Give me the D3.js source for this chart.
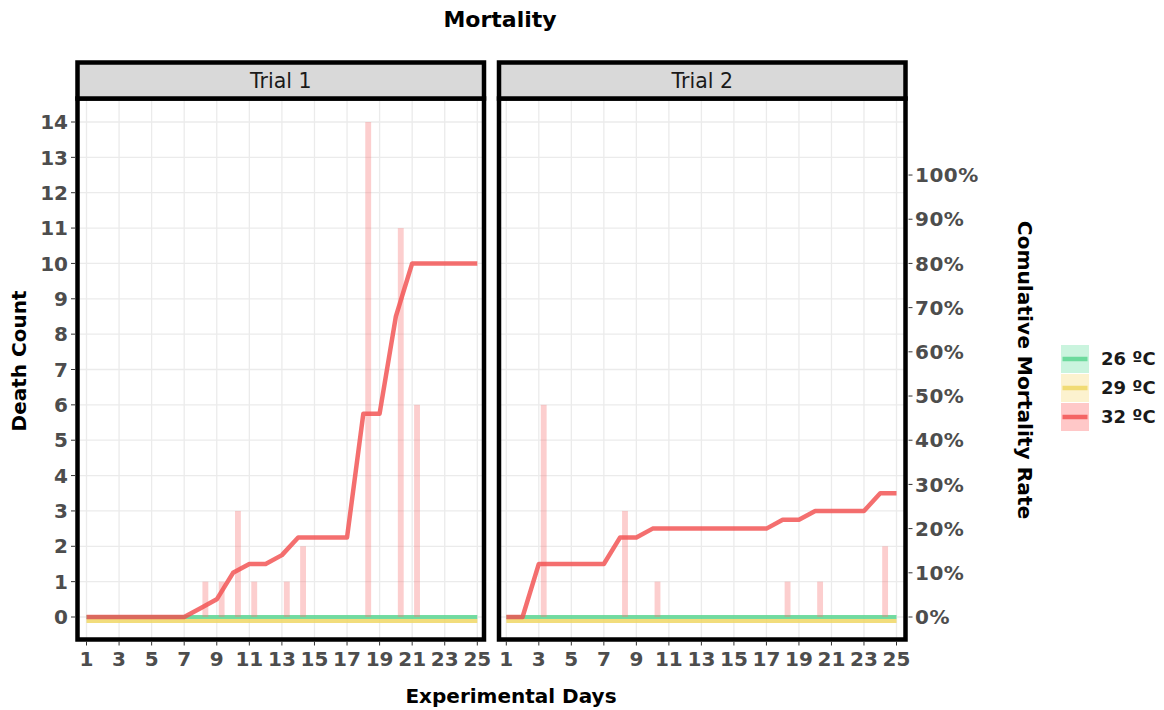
<!DOCTYPE html>
<html>
<head>
<meta charset="utf-8">
<script src="https://cdn.jsdelivr.net/npm/d3@7"></script>
<style>
  html, body { margin: 0; padding: 0; background: #ffffff; }
  svg { display: block; font-family: "DejaVu Sans", Verdana, sans-serif; }
</style>
</head>
<body>
<svg id="chart" width="1164" height="710"></svg>
<script>
// ---- data ---------------------------------------------------------------
const days = [1, 2, 3, 4, 5, 6, 7, 8, 9, 10, 11, 12, 13, 14, 15, 16, 17, 18, 19, 20, 21, 22, 23, 24, 25];
const dayTicks = [1, 3, 5, 7, 9, 11, 13, 15, 17, 19, 21, 23, 25];
const countTicks = [0, 1, 2, 3, 4, 5, 6, 7, 8, 9, 10, 11, 12, 13, 14];
const rateTicks = [0, 10, 20, 30, 40, 50, 60, 70, 80, 90, 100];
const trials = ["Trial 1", "Trial 2"];
const groups = ["26 ºC", "29 ºC", "32 ºC"];

// daily deaths per group (Trial 1)
const t1Deaths26 = [0,0,0,0,0,0,0,0,0,0,0,0,0,0,0,0,0,0,0,0,0,0,0,0,0];
const t1Deaths29 = [0,0,0,0,0,0,0,0,0,0,0,0,0,0,0,0,0,0,0,0,0,0,0,0,0];
const t1Deaths32 = [0,0,0,0,0,0,0,1,1,3,1,0,1,2,0,0,0,14,0,11,6,0,0,0,0];
// cumulative mortality rate, % (Trial 1)
const t1Rate26 = [0,0,0,0,0,0,0,0,0,0,0,0,0,0,0,0,0,0,0,0,0,0,0,0,0];
const t1Rate29 = [0,0,0,0,0,0,0,0,0,0,0,0,0,0,0,0,0,0,0,0,0,0,0,0,0];
const t1Rate32 = [0,0,0,0,0,0,0,2,4,10,12,12,14,18,18,18,18,46,46,68,80,80,80,80,80];

// daily deaths per group (Trial 2)
const t2Deaths26 = [0,0,0,0,0,0,0,0,0,0,0,0,0,0,0,0,0,0,0,0,0,0,0,0,0];
const t2Deaths29 = [0,0,0,0,0,0,0,0,0,0,0,0,0,0,0,0,0,0,0,0,0,0,0,0,0];
const t2Deaths32 = [0,0,6,0,0,0,0,3,0,1,0,0,0,0,0,0,0,1,0,1,0,0,0,2,0];
// cumulative mortality rate, % (Trial 2)
const t2Rate26 = [0,0,0,0,0,0,0,0,0,0,0,0,0,0,0,0,0,0,0,0,0,0,0,0,0];
const t2Rate29 = [0,0,0,0,0,0,0,0,0,0,0,0,0,0,0,0,0,0,0,0,0,0,0,0,0];
const t2Rate32 = [0,0,12,12,12,12,12,18,18,20,20,20,20,20,20,20,20,22,22,24,24,24,24,28,28];

// secondary axis: 100 % cumulative mortality corresponds to 12.5 deaths
const rateToCount = 12.5 / 100;

// ---- styling --------------------------------------------------------------
const lineColor = { "26 ºC": "#5cd692", "29 ºC": "#f0d765", "32 ºC": "#f24f4f" };
const lineOpacity = { "26 ºC": 0.85, "29 ºC": 0.85, "32 ºC": 0.82 };
const keyFill   = { "26 ºC": "#caf4de", "29 ºC": "#fcf2cf", "32 ºC": "#ffc8c8" };
const barFill = "rgba(248,118,118,0.36)";
const lineNudge = { "26 ºC": 0, "29 ºC": 4, "32 ºC": 0 };   // pixel dodge of overlapping zero lines
const barDodge = { "26 ºC": -0.3, "29 ºC": 0, "32 ºC": 0.3 };
const barWidthDays = 0.36;

const panelData = [
  { label: trials[0], deaths: [t1Deaths26, t1Deaths29, t1Deaths32], rate: [t1Rate26, t1Rate29, t1Rate32] },
  { label: trials[1], deaths: [t2Deaths26, t2Deaths29, t2Deaths32], rate: [t2Rate26, t2Rate29, t2Rate32] }
];

// ---- layout ---------------------------------------------------------------
const svg = d3.select("#chart");
const stripTop = 62.5, stripBottom = 98.5, panelBottom = 639.5;
const panels = [
  { x0: 77.5, x1: 484, dayRange: [86.5, 477.3] },
  { x0: 499, x1: 905.5, dayRange: [506.3, 896.5] }
];

const y = d3.scaleLinear().domain([0, 14]).range([617, 122]);
const yRate = d3.scaleLinear().domain([0, 100]).range([y(0), y(100 * rateToCount)]);

const tickColor = "#4d4d4d";
const tickFont = 20;

// ---- title ----------------------------------------------------------------
svg.append("text")
  .attr("x", 500).attr("y", 27)
  .attr("text-anchor", "middle")
  .attr("font-size", 22).attr("font-weight", "bold").attr("fill", "#000")
  .text("Mortality");

panels.forEach((p, i) => {
  const d = panelData[i];
  const x = d3.scaleLinear().domain([days[0], days[days.length - 1]]).range(p.dayRange);
  const g = svg.append("g");

  // panel background
  g.append("rect")
    .attr("x", p.x0).attr("y", stripBottom)
    .attr("width", p.x1 - p.x0).attr("height", panelBottom - stripBottom)
    .attr("fill", "#ffffff");

  // grid
  const clipId = "clip" + i;
  svg.append("clipPath").attr("id", clipId)
    .append("rect").attr("x", p.x0).attr("y", stripBottom)
    .attr("width", p.x1 - p.x0).attr("height", panelBottom - stripBottom);
  const plot = g.append("g").attr("clip-path", `url(#${clipId})`);

  plot.append("g").selectAll("line").data(countTicks).join("line")
    .attr("x1", p.x0).attr("x2", p.x1)
    .attr("y1", v => y(v)).attr("y2", v => y(v))
    .attr("stroke", "#ebebeb").attr("stroke-width", 1.3);
  plot.append("g").selectAll("line").data(dayTicks).join("line")
    .attr("x1", v => x(v)).attr("x2", v => x(v))
    .attr("y1", stripBottom).attr("y2", panelBottom)
    .attr("stroke", "#ebebeb").attr("stroke-width", 1.3);

  const line = d3.line().x(v => x(v.day)).y(v => yRate(v.rate));
  const pxPerDay = x(2) - x(1);

  // each group: bars then cumulative line, drawn in group order
  groups.forEach((grp, k) => {
    const barRows = days.map((dd, j) => ({ day: dd, n: d.deaths[k][j] })).filter(r => r.n > 0);
    plot.append("g").selectAll("rect").data(barRows).join("rect")
      .attr("x", r => x(r.day + barDodge[grp]) - barWidthDays * pxPerDay / 2)
      .attr("width", barWidthDays * pxPerDay)
      .attr("y", r => y(r.n))
      .attr("height", r => y(0) - y(r.n))
      .attr("fill", barFill);

    const rows = days.map((dd, j) => ({ day: dd, rate: d.rate[k][j] }));
    plot.append("path")
      .datum(rows)
      .attr("d", line)
      .attr("transform", `translate(0,${lineNudge[grp]})`)
      .attr("fill", "none")
      .attr("stroke", lineColor[grp])
      .attr("stroke-width", grp === "32 ºC" ? 4.5 : 4)
      .attr("stroke-linejoin", "round")
      .attr("opacity", lineOpacity[grp]);
  });

  // panel border
  g.append("rect")
    .attr("x", p.x0).attr("y", stripBottom)
    .attr("width", p.x1 - p.x0).attr("height", panelBottom - stripBottom)
    .attr("fill", "none").attr("stroke", "#000").attr("stroke-width", 4.5);

  // strip
  g.append("rect")
    .attr("x", p.x0).attr("y", stripTop)
    .attr("width", p.x1 - p.x0).attr("height", stripBottom - stripTop)
    .attr("fill", "#d9d9d9").attr("stroke", "#000").attr("stroke-width", 4.5);
  g.append("text")
    .attr("x", (p.x0 + p.x1) / 2).attr("y", (stripTop + stripBottom) / 2)
    .attr("dy", "0.36em")
    .attr("text-anchor", "middle")
    .attr("font-size", 20.5).attr("fill", "#1a1a1a")
    .text(d.label);

  // x axis
  const xAxis = g.append("g");
  xAxis.selectAll("line").data(dayTicks).join("line")
    .attr("x1", v => x(v)).attr("x2", v => x(v))
    .attr("y1", panelBottom + 2).attr("y2", panelBottom + 6)
    .attr("stroke", "#333").attr("stroke-width", 1);
  xAxis.selectAll("text").data(dayTicks).join("text")
    .attr("x", v => x(v)).attr("y", 666)
    .attr("text-anchor", "middle")
    .attr("font-size", tickFont).attr("font-weight", "bold").attr("fill", tickColor)
    .text(v => v);
});

// left axis (death count)
const leftAxis = svg.append("g");
leftAxis.selectAll("line").data(countTicks).join("line")
  .attr("x1", 71).attr("x2", 75)
  .attr("y1", v => y(v)).attr("y2", v => y(v))
  .attr("stroke", "#333").attr("stroke-width", 1);
leftAxis.selectAll("text").data(countTicks).join("text")
  .attr("x", 68).attr("y", v => y(v)).attr("dy", "0.36em")
  .attr("text-anchor", "end")
  .attr("font-size", tickFont).attr("font-weight", "bold").attr("fill", tickColor)
  .text(v => v);

// right axis (cumulative mortality rate)
const rightAxis = svg.append("g");
rightAxis.selectAll("line").data(rateTicks).join("line")
  .attr("x1", 908.5).attr("x2", 912.5)
  .attr("y1", v => yRate(v)).attr("y2", v => yRate(v))
  .attr("stroke", "#333").attr("stroke-width", 1);
rightAxis.selectAll("text").data(rateTicks).join("text")
  .attr("x", 915).attr("y", v => yRate(v)).attr("dy", "0.36em")
  .attr("text-anchor", "start")
  .attr("font-size", tickFont).attr("font-weight", "bold").attr("fill", tickColor)
  .attr("letter-spacing", 0.5)
  .text(v => v + "%");

// axis titles
svg.append("text")
  .attr("x", 511).attr("y", 703)
  .attr("text-anchor", "middle")
  .attr("font-size", 20).attr("font-weight", "bold").attr("fill", "#000")
  .text("Experimental Days");
svg.append("text")
  .attr("transform", "translate(19,361) rotate(-90)")
  .attr("dy", "0.36em")
  .attr("text-anchor", "middle")
  .attr("font-size", 20).attr("font-weight", "bold").attr("fill", "#000")
  .text("Death Count");
svg.append("text")
  .attr("transform", "translate(1025,370) rotate(90)")
  .attr("dy", "0.36em")
  .attr("text-anchor", "middle")
  .attr("font-size", 20.2).attr("font-weight", "bold").attr("fill", "#000")
  .text("Comulative Mortality Rate");

// legend
const legend = svg.append("g").attr("transform", "translate(1061,345)");
groups.forEach((grp, k) => {
  const row = legend.append("g").attr("transform", `translate(0,${k * 29})`);
  row.append("rect").attr("x", 0).attr("y", 0).attr("width", 28).attr("height", 28)
    .attr("fill", keyFill[grp]);
  row.append("line").attr("x1", 1.5).attr("x2", 26.5).attr("y1", 14).attr("y2", 14)
    .attr("stroke", lineColor[grp]).attr("stroke-width", 4.5)
    .attr("opacity", lineOpacity[grp]);
  row.append("text").attr("x", 40).attr("y", 14).attr("dy", "0.36em")
    .attr("font-size", 18).attr("font-weight", "bold").attr("fill", "#1a1a1a")
    .text(grp);
});
</script>
</body>
</html>
